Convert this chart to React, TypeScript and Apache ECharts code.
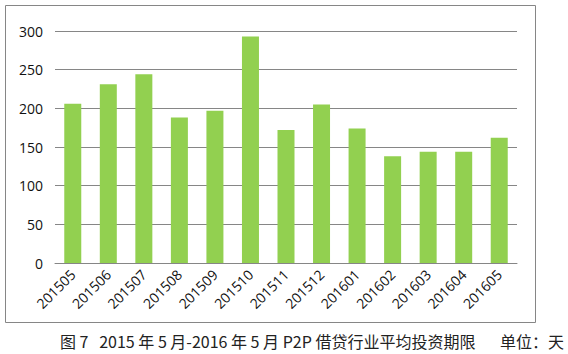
import React, { useEffect, useRef } from "react";
import * as echarts from "echarts";

const categories = ["201505", "201506", "201507", "201508", "201509", "201510", "201511", "201512", "201601", "201602", "201603", "201604", "201605"];
const values = [206, 231, 244, 188, 197, 293, 172, 205, 174, 138, 144, 144, 162];
const yTicks = [0, 50, 100, 150, 200, 250, 300];
const caption = "图 7   2015 年 5 月-2016 年 5 月 P2P 借贷行业平均投资期限";
const unit = "单位：天";

export default function App() {
  const ref = useRef<HTMLDivElement>(null);
  useEffect(() => {
    document.body.style.margin = "0";
    const chart = echarts.init(ref.current!, undefined, { renderer: "svg" });
    chart.setOption({
      animation: false,
      backgroundColor: "#ffffff",
      grid: { left: 55, right: 51, top: 31, bottom: 91, containLabel: false },
      xAxis: {
        type: "category",
        data: categories,
        axisLine: { show: true, lineStyle: { color: "#868686", width: 1 } },
        axisTick: { show: false },
        axisLabel: {
          rotate: 45,
          interval: 0,
          margin: 9,
          color: "#111",
          fontSize: 14,
          fontFamily: "'Open Sans', sans-serif",
        },
      },
      yAxis: {
        type: "value",
        min: yTicks[0],
        max: yTicks[yTicks.length - 1],
        interval: 50,
        axisLine: { show: false },
        axisTick: { show: false },
        splitLine: { lineStyle: { color: "#868686", width: 1 } },
        axisLabel: {
          margin: 12,
          color: "#111",
          fontSize: 14,
          fontFamily: "'Open Sans', sans-serif",
        },
      },
      series: [
        {
          type: "bar",
          data: values,
          barWidth: 17,
          itemStyle: { color: "#92D050" },
        },
      ],
      graphic: [
        {
          type: "rect",
          shape: { x: 5.5, y: 5.5, width: 530, height: 317 },
          style: { fill: "none", stroke: "#868686", lineWidth: 1 },
          silent: true,
        },
        {
          type: "text",
          x: 60,
          y: 341,
          style: {
            text: caption,
            fill: "#222",
            font: "16px 'Noto Sans CJK SC', sans-serif",
            verticalAlign: "middle",
          },
        },
        {
          type: "text",
          x: 564,
          y: 341,
          style: {
            text: unit,
            fill: "#222",
            font: "16px 'Noto Sans CJK SC', sans-serif",
            align: "right",
            verticalAlign: "middle",
          },
        },
      ],
    });
    return () => chart.dispose();
  }, []);
  return <div ref={ref} style={{ width: 568, height: 354 }} />;
}
